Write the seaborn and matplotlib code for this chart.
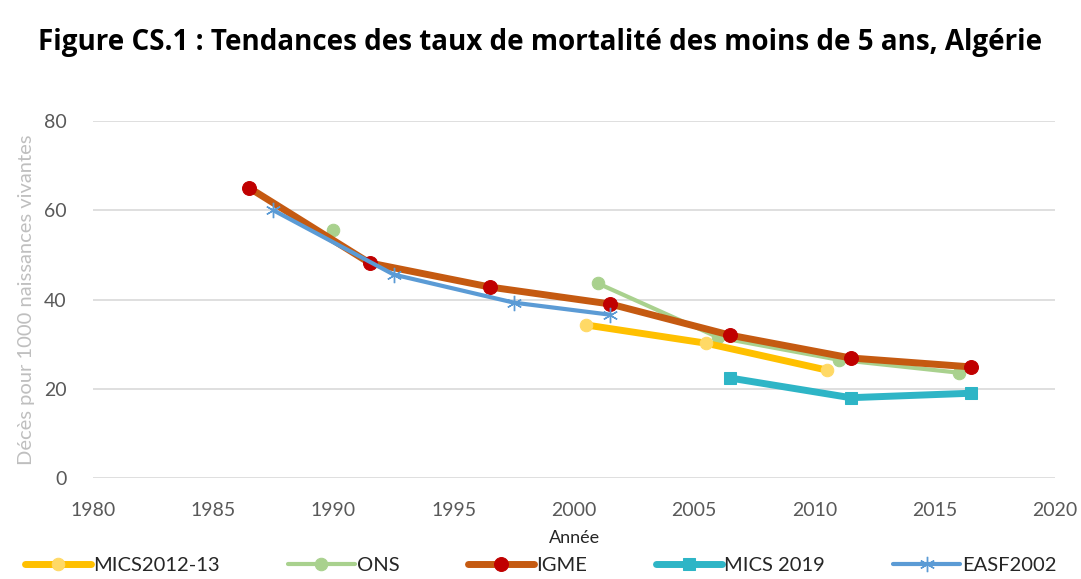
import matplotlib
matplotlib.use("Agg")
import matplotlib.pyplot as plt
import numpy as np
import seaborn as sns

# series
mics2012_years = [2000.5, 2005.5, 2010.5]
mics2012_rates = [34.3, 30.2, 24.2]

ons_years_a = [1990.0]
ons_rates_a = [55.5]
ons_years_b = [2001.0, 2006.0, 2011.0, 2016.0]
ons_rates_b = [43.6, 31.5, 26.5, 23.6]

igme_years = [1986.5, 1991.5, 1996.5, 2001.5, 2006.5, 2011.5, 2016.5]
igme_rates = [65.0, 48.2, 42.8, 39.0, 32.0, 26.9, 24.9]

mics2019_years = [2006.5, 2011.5, 2016.5]
mics2019_rates = [22.4, 18.0, 19.0]

easf_years = [1987.5, 1992.5, 1997.5, 2001.5]
easf_rates = [60.0, 45.6, 39.3, 36.6]

x_ticks = [1980, 1985, 1990, 1995, 2000, 2005, 2010, 2015, 2020]
y_ticks = [0, 20, 40, 60, 80]

sns.set_theme(style="white")
plt.rcParams["font.family"] = ["Lato", "DejaVu Sans"]

fig = plt.figure(figsize=(10.81, 5.79), dpi=100)
ax = fig.add_axes([0.086, 0.1744, 0.89, 0.6166])

sns.lineplot(x=mics2012_years, y=mics2012_rates, ax=ax, color="#FFC000",
             linewidth=5, marker="o", markersize=9, markerfacecolor="#FFD966",
             markeredgecolor="#FFD966", label="MICS2012-13", zorder=3)
sns.lineplot(x=ons_years_a, y=ons_rates_a, ax=ax, color="#A9D18E",
             linewidth=3, marker="o", markersize=9, markeredgecolor="#A9D18E",
             label="ONS", zorder=2)
sns.lineplot(x=ons_years_b, y=ons_rates_b, ax=ax, color="#A9D18E",
             linewidth=3, marker="o", markersize=9, markeredgecolor="#A9D18E",
             zorder=2)
sns.lineplot(x=igme_years, y=igme_rates, ax=ax, color="#C55A11",
             linewidth=5, marker="o", markersize=10, markerfacecolor="#C00000",
             markeredgecolor="#C00000", label="IGME", zorder=4)
sns.lineplot(x=mics2019_years, y=mics2019_rates, ax=ax, color="#2EB5C6",
             linewidth=5, marker="s", markersize=8, markerfacecolor="#2EB5C6",
             markeredgecolor="#2EB5C6", label="MICS 2019", zorder=3)
sns.lineplot(x=easf_years, y=easf_rates, ax=ax, color="#5B9BD5",
             linewidth=3, marker=(6, 2, 0), markersize=11, markeredgewidth=1.0,
             markeredgecolor="#5B9BD5", label="EASF2002", zorder=5)

ax.set_xlim(1980, 2020)
ax.set_ylim(0, 80)
ax.set_xticks(x_ticks)
ax.set_yticks(y_ticks)
ax.tick_params(axis="both", length=0, labelsize=14, labelcolor="#595959")
ax.tick_params(axis="x", pad=17)
ax.tick_params(axis="y", pad=19)
ax.grid(axis="y", color="#D9D9D9", linewidth=1.2)
ax.set_axisbelow(True)
for side in ["top", "right", "left", "bottom"]:
    ax.spines[side].set_visible(False)

ax.set_xlabel("Année", fontsize=13, color="#262626", labelpad=8)
ax.set_ylabel("Décès pour 1000 naissances vivantes", fontsize=14.5,
              color="#BFBFBF", labelpad=6)

handles, labels = ax.get_legend_handles_labels()
ax.get_legend().remove()
fig.legend(handles, labels, loc="center", bbox_to_anchor=(0.5, 0.024), ncol=5,
           frameon=False, fontsize=14.5, handlelength=3.3, columnspacing=3.4,
           handletextpad=0.1, labelcolor="#262626")

fig.text(0.5, 0.927, "Figure CS.1 : Tendances des taux de mortalité des moins de 5 ans, Algérie",
         ha="center", va="center", fontsize=20, fontweight="bold",
         family=["Open Sans", "DejaVu Sans"], color="#000000")

fig.savefig("out.png", dpi=100)
